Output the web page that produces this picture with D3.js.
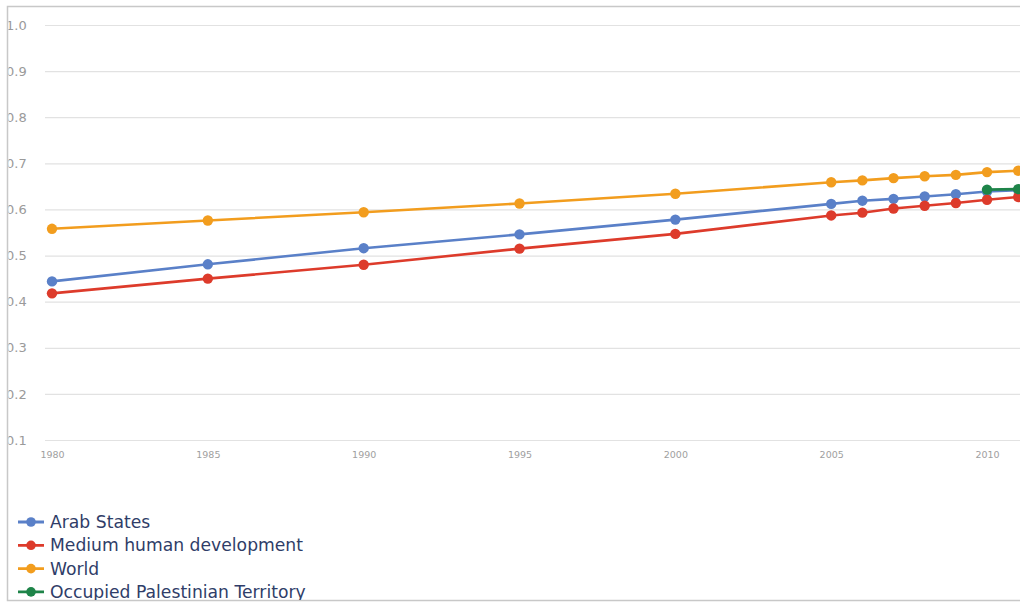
<!DOCTYPE html>
<html><head><meta charset="utf-8">
<script src="https://cdn.jsdelivr.net/npm/d3@7"></script>
<style>body{margin:0;background:#fff;}svg{display:block;}</style>
</head><body>
<script>
const years = [1980,1985,1990,1995,2000,2005,2006,2007,2008,2009,2010,2011];
const arabStates = [0.444,0.481,0.516,0.546,0.578,0.612,0.619,0.623,0.628,0.633,0.639,0.642];
const mediumHD = [0.418,0.450,0.480,0.515,0.547,0.587,0.593,0.602,0.608,0.614,0.621,0.627];
const world = [0.558,0.576,0.594,0.613,0.634,0.659,0.663,0.668,0.672,0.675,0.681,0.684];
const palestineYears = [2010,2011];
const palestine = [0.643,0.644];
const seriesNames = ["Arab States","Medium human development","World","Occupied Palestinian Territory"];
const seriesColors = ["#5a80c8","#dd3b2b","#f29d1e","#1e8449"];
const yTicks = [0.1,0.2,0.3,0.4,0.5,0.6,0.7,0.8,0.9,1.0];
const xTicks = [1980,1985,1990,1995,2000,2005,2010];

const W=1020,H=603;
const svg=d3.select("body").append("svg").attr("width",W).attr("height",H);
svg.append("rect").attr("x",7.5).attr("y",6.5).attr("width",W).attr("height",594).attr("fill","#fff").attr("stroke","#c8c8c8").attr("stroke-width",1.5);

const defs=svg.append("defs");
defs.append("clipPath").attr("id","frame").append("rect").attr("x",8.5).attr("y",7).attr("width",W).attr("height",593);

const x=d3.scaleLinear().domain([1980,2011]).range([52,1018.2]);
const y=d3.scaleLinear().domain([0.1,1.0]).range([440,25]);

const g=svg.append("g").attr("clip-path","url(#frame)");

// grid
const yAxis=d3.axisLeft(y).tickValues(yTicks).tickSize(-(W-45)).tickFormat(d3.format(".1f")).tickPadding(0);
const ya=g.append("g").attr("transform","translate(45,0)").call(yAxis);
ya.select(".domain").remove();
ya.selectAll(".tick line").attr("stroke","#e2e2e2").attr("stroke-width",1.2);
ya.selectAll(".tick text").attr("x",-39).attr("text-anchor","start").attr("fill","#9a9a9a")
  .style("font-family","DejaVu Sans, sans-serif").style("font-size","13px");

const xAxis=d3.axisBottom(x).tickValues(xTicks).tickFormat(d3.format("d")).tickSize(0).tickPadding(11);
const xa=g.append("g").attr("transform","translate(0,440)").call(xAxis);
xa.select(".domain").remove();
xa.selectAll(".tick text").attr("fill","#a0a0a0").style("font-family","DejaVu Sans, sans-serif").style("font-size","9.5px");

const data=[
  {name:seriesNames[0],color:seriesColors[0],pts:years.map((yr,i)=>[yr,arabStates[i]])},
  {name:seriesNames[1],color:seriesColors[1],pts:years.map((yr,i)=>[yr,mediumHD[i]])},
  {name:seriesNames[2],color:seriesColors[2],pts:years.map((yr,i)=>[yr,world[i]])},
  {name:seriesNames[3],color:seriesColors[3],pts:palestineYears.map((yr,i)=>[yr,palestine[i]])}
];
const line=d3.line().x(d=>x(d[0])).y(d=>y(d[1]));
data.forEach(s=>{
  const sg=g.append("g");
  sg.append("path").datum(s.pts).attr("d",line).attr("fill","none").attr("stroke",s.color).attr("stroke-width",2.6);
  sg.selectAll("circle").data(s.pts).join("circle").attr("cx",d=>x(d[0])).attr("cy",d=>y(d[1])).attr("r",5.2).attr("fill",s.color);
});

// legend
const lg=g.append("g");
seriesNames.forEach((n,i)=>{
  const yy=522+i*23.3;
  lg.append("line").attr("x1",18).attr("x2",44).attr("y1",yy).attr("y2",yy).attr("stroke",seriesColors[i]).attr("stroke-width",2.8);
  lg.append("circle").attr("cx",31).attr("cy",yy).attr("r",4.8).attr("fill",seriesColors[i]);
  lg.append("text").attr("x",50).attr("y",yy+6).text(n).attr("fill","#2f3d68")
    .style("font-family","DejaVu Sans, sans-serif").style("font-size","17.2px");
});
</script>
</body></html>
